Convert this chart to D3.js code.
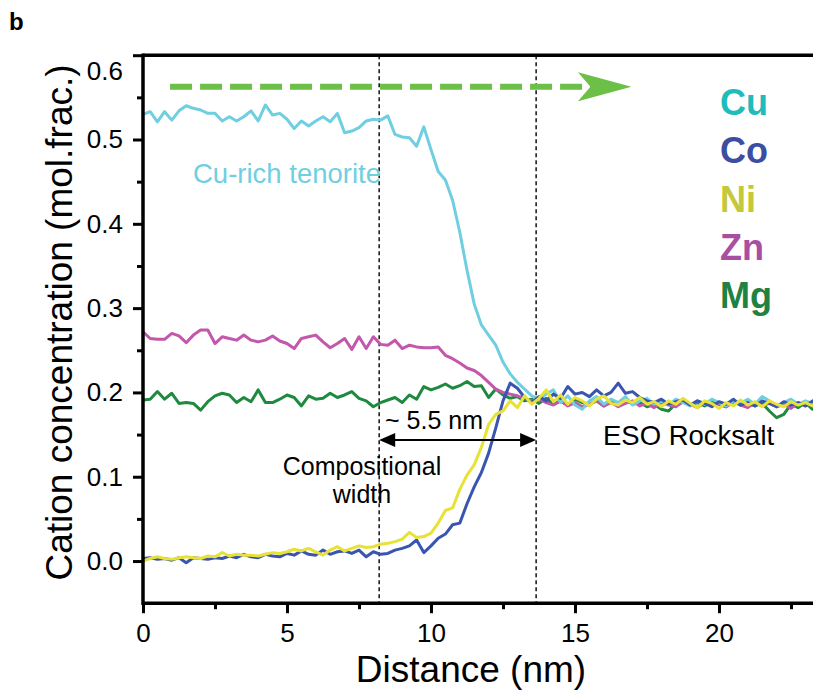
<!DOCTYPE html>
<html>
<head>
<meta charset="utf-8">
<script src="https://cdn.jsdelivr.net/npm/d3@7"></script>
<style>
  body { margin: 0; background: #fff; }
  svg { display: block; }
  text { font-family: "Liberation Sans", Arial, Helvetica, sans-serif; }
</style>
</head>
<body>
<svg id="chart" width="813" height="692"></svg>
<script>
// Line-scan distance (nm) across the interface
const distance = [
  0,0.25,0.5,0.75, 1,1.25,1.5,1.75, 2,2.25,2.5,2.75, 3,3.25,3.5,3.75,
  4,4.25,4.5,4.75, 5,5.25,5.5,5.75, 6,6.25,6.5,6.75, 7,7.25,7.5,7.75,
  8,8.25,8.5,8.75, 9,9.25,9.5,9.75, 10,10.25,10.5,10.75, 11,11.25,11.5,11.75,
  12,12.25,12.5,12.75, 13,13.25,13.5,13.75, 14,14.25,14.5,14.75, 15,15.25,15.5,15.75,
  16,16.25,16.5,16.75, 17,17.25,17.5,17.75, 18,18.25,18.5,18.75, 19,19.25,19.5,19.75,
  20,20.25,20.5,20.75, 21,21.25,21.5,21.75, 22,22.25,22.5,22.75, 23,23.25,23.5
];

// Cation concentrations (mol. frac.)
const cu = [
  0.530,0.533,0.521,0.533, 0.523,0.534,0.540,0.537, 0.535,0.531,0.531,0.522, 0.527,0.522,0.527,0.534,
  0.522,0.541,0.529,0.531, 0.524,0.513,0.522,0.516, 0.522,0.527,0.521,0.531, 0.508,0.510,0.514,0.522,
  0.524,0.523,0.528,0.506, 0.503,0.502,0.492,0.515, 0.488,0.462,0.452,0.428, 0.390,0.345,0.305,0.280,
  0.268,0.256,0.236,0.222, 0.212,0.204,0.196,0.192, 0.198,0.203,0.188,0.196, 0.185,0.180,0.190,0.195,
  0.186,0.192,0.188,0.195, 0.185,0.190,0.193,0.186, 0.190,0.185,0.192,0.188, 0.184,0.190,0.186,0.192,
  0.188,0.184,0.190,0.187, 0.192,0.186,0.195,0.190, 0.183,0.188,0.192,0.186, 0.190,0.187,0.189
];
const co = [
  0.003,0.004,0.002,0.003, 0.001,0.004,-0.002,0.004, 0.003,0.002,0.004,0.003, 0.006,0.004,0.008,0.005,
  0.004,0.008,0.006,0.005, 0.009,0.007,0.012,0.008, 0.007,0.013,0.008,0.011, 0.012,0.009,0.013,0.005,
  0.011,0.008,0.009,0.013, 0.015,0.018,0.025,0.010, 0.018,0.027,0.032,0.043, 0.045,0.068,0.088,0.105,
  0.128,0.158,0.190,0.211, 0.205,0.194,0.188,0.195, 0.190,0.198,0.193,0.207, 0.198,0.200,0.195,0.203,
  0.196,0.200,0.211,0.199, 0.201,0.194,0.190,0.188, 0.192,0.186,0.189,0.191, 0.185,0.190,0.187,0.183,
  0.189,0.186,0.192,0.185, 0.188,0.184,0.190,0.187, 0.183,0.189,0.185,0.188, 0.184,0.190,0.186
];
const ni = [
  0.000,0.003,0.005,0.003, 0.002,0.004,0.005,0.004, 0.003,0.006,0.005,0.010, 0.006,0.008,0.007,0.007,
  0.006,0.008,0.010,0.009, 0.011,0.014,0.012,0.015, 0.011,0.007,0.013,0.017, 0.012,0.015,0.018,0.016,
  0.017,0.020,0.021,0.023, 0.026,0.034,0.028,0.029, 0.033,0.045,0.060,0.063, 0.085,0.102,0.114,0.135,
  0.162,0.174,0.178,0.190, 0.182,0.196,0.186,0.193, 0.203,0.189,0.197,0.186, 0.194,0.190,0.184,0.192,
  0.196,0.187,0.185,0.191, 0.188,0.194,0.186,0.189, 0.183,0.190,0.186,0.193, 0.187,0.182,0.190,0.187,
  0.181,0.188,0.184,0.191, 0.185,0.189,0.183,0.190, 0.186,0.183,0.189,0.185, 0.188,0.184,0.187
];
const zn = [
  0.272,0.264,0.263,0.263, 0.270,0.267,0.259,0.268, 0.274,0.274,0.258,0.266, 0.264,0.262,0.268,0.262,
  0.260,0.262,0.267,0.261, 0.258,0.252,0.264,0.266, 0.268,0.260,0.253,0.258, 0.264,0.251,0.266,0.252,
  0.266,0.257,0.256,0.262, 0.252,0.256,0.254,0.253, 0.253,0.254,0.244,0.240, 0.235,0.229,0.226,0.220,
  0.212,0.204,0.200,0.198, 0.196,0.193,0.190,0.192, 0.188,0.185,0.190,0.184, 0.188,0.183,0.186,0.190,
  0.184,0.188,0.183,0.187, 0.190,0.184,0.187,0.182, 0.188,0.185,0.183,0.189, 0.186,0.182,0.188,0.184,
  0.187,0.183,0.189,0.185, 0.182,0.188,0.184,0.187, 0.183,0.186,0.181,0.188, 0.184,0.187,0.183
];
const mg = [
  0.191,0.192,0.201,0.192, 0.199,0.187,0.188,0.187, 0.179,0.189,0.196,0.199, 0.197,0.188,0.194,0.189,
  0.203,0.188,0.188,0.192, 0.197,0.194,0.184,0.196, 0.192,0.193,0.199,0.194, 0.197,0.201,0.193,0.190,
  0.183,0.188,0.191,0.194, 0.188,0.197,0.192,0.207, 0.203,0.206,0.210,0.205, 0.208,0.213,0.207,0.208,
  0.194,0.204,0.197,0.193, 0.195,0.190,0.192,0.187, 0.193,0.186,0.190,0.185, 0.192,0.188,0.186,0.190,
  0.184,0.189,0.187,0.192, 0.186,0.188,0.183,0.186, 0.180,0.178,0.187,0.190, 0.185,0.188,0.184,0.189,
  0.186,0.183,0.189,0.185, 0.188,0.184,0.187,0.178, 0.170,0.174,0.186,0.182, 0.188,0.180,0.183
];

const xTicks = [0, 5, 10, 15, 20];
const xMinorTicks = [2.5, 7.5, 12.5, 17.5, 22.5];
const yTicks = [0, 0.1, 0.2, 0.3, 0.4, 0.5, 0.6];
const yMinorTicks = [0.05, 0.15, 0.25, 0.35, 0.45, 0.55];

const elements = ["Cu", "Co", "Ni", "Zn", "Mg"];
const lineColors = { Cu: "#6fcfe0", Co: "#3a55b0", Ni: "#e8e236", Zn: "#c257ab", Mg: "#1d8a40" };
const legendColors = { Cu: "#1fbcbc", Co: "#3b4ea1", Ni: "#c4c83a", Zn: "#a94fa2", Mg: "#1f8142" };
const seriesByElement = { Cu: cu, Co: co, Ni: ni, Zn: zn, Mg: mg };
const drawOrder = ["Mg", "Zn", "Cu", "Co", "Ni"];

// Interface boundaries (nm) bracketing the compositional width
const boundaries = [8.2, 13.65];
const widthArrowLevel = 0.1435;
// Scan direction arrow: start, end (nm) and level (mol. frac.)
const scanArrow = { from: 0.94, to: 16.96, level: 0.5626 };

const svg = d3.select("#chart");
const W = 813, H = 692;

const x = d3.scaleLinear().domain([0, 25]).range([143, 863]);
const y = d3.scaleLinear().domain([-0.05, 0.6]).range([603.2, 55.2]);

const plotLeft = x(0), plotRight = W, plotTop = y(0.6), plotBottom = y(-0.05);

svg.append("defs").append("clipPath").attr("id", "plot-clip")
  .append("rect").attr("x", plotLeft).attr("y", plotTop - 2)
  .attr("width", plotRight - plotLeft).attr("height", plotBottom - plotTop + 4);

// Panel letter
svg.append("text").attr("x", 9).attr("y", 30)
  .attr("font-size", 24).attr("font-weight", "bold").text("b");

// Boundary guides
svg.append("g").selectAll("line").data(boundaries).join("line")
  .attr("x1", d => x(d)).attr("x2", d => x(d))
  .attr("y1", plotTop).attr("y2", plotBottom)
  .attr("stroke", "#000").attr("stroke-width", 1.4)
  .attr("stroke-dasharray", "4,3");

// Concentration profiles
const line = d3.line()
  .x((d, i) => x(distance[i]))
  .y(d => y(d));

svg.append("g").attr("clip-path", "url(#plot-clip)")
  .selectAll("path").data(drawOrder).join("path")
  .attr("d", k => line(seriesByElement[k]))
  .attr("fill", "none")
  .attr("stroke", k => lineColors[k])
  .attr("stroke-width", 3)
  .attr("stroke-linejoin", "round");

// Axes
const axisX = svg.append("g").attr("transform", `translate(0,${plotBottom})`)
  .call(d3.axisBottom(x).tickValues(xTicks).tickSize(10).tickPadding(10).tickFormat(d3.format("d")));
const axisXMinor = svg.append("g").attr("transform", `translate(0,${plotBottom})`)
  .call(d3.axisBottom(x).tickValues(xMinorTicks).tickSize(6).tickFormat(""));
const axisY = svg.append("g").attr("transform", `translate(${plotLeft},0)`)
  .call(d3.axisLeft(y).tickValues(yTicks).tickSize(10).tickPadding(10).tickFormat(d3.format(".1f")));
const axisYMinor = svg.append("g").attr("transform", `translate(${plotLeft},0)`)
  .call(d3.axisLeft(y).tickValues(yMinorTicks).tickSize(6).tickFormat(""));

[axisX, axisXMinor, axisY, axisYMinor].forEach(g => {
  g.select(".domain").remove();
  g.selectAll(".tick line").attr("stroke", "#000").attr("stroke-width", 3);
  g.selectAll(".tick text").attr("font-size", 26).attr("fill", "#000")
    .attr("font-family", "'Liberation Sans', Arial, sans-serif");
});
// keep the top label clear of the frame corner
axisY.selectAll(".tick").filter(d => d === 0.6).select("text").attr("dy", "0.95em");

// Frame: left, bottom and top spines
const frame = svg.append("g").attr("stroke", "#000").attr("stroke-width", 3.5).attr("fill", "none");
frame.append("line").attr("x1", plotLeft).attr("x2", plotLeft).attr("y1", plotTop - 1.75).attr("y2", plotBottom + 1.75);
frame.append("line").attr("x1", plotLeft).attr("x2", plotRight).attr("y1", plotBottom).attr("y2", plotBottom);
frame.append("line").attr("x1", plotLeft).attr("x2", plotRight).attr("y1", plotTop).attr("y2", plotTop);

// Axis titles
svg.append("text").attr("x", 471).attr("y", 682)
  .attr("text-anchor", "middle").attr("font-size", 37).text("Distance (nm)");
svg.append("text").attr("transform", `translate(72,${(60 + 585) / 2}) rotate(-90)`)
  .attr("text-anchor", "middle").attr("font-size", 37).text("Cation concentration (mol.frac.)");

// Element legend
svg.append("g").selectAll("text").data(elements).join("text")
  .attr("x", 720).attr("y", (d, i) => 115 + i * 48.3)
  .attr("font-size", 36).attr("font-weight", "bold")
  .attr("fill", d => legendColors[d]).text(d => d);

// Scan direction arrow
const ay = y(scanArrow.level), ax0 = x(scanArrow.from), ax1 = x(scanArrow.to);
svg.append("line").attr("x1", ax0).attr("x2", ax1 - 40).attr("y1", ay).attr("y2", ay)
  .attr("stroke", "#6cbf47").attr("stroke-width", 6).attr("stroke-dasharray", "22,8");
svg.append("path")
  .attr("d", `M${ax1},${ay} L${ax1 - 53.5},${ay - 14.5} L${ax1 - 41},${ay} L${ax1 - 53.5},${ay + 14.5} Z`)
  .attr("fill", "#6cbf47");

// Compositional width arrow
const wy = y(widthArrowLevel), wx0 = x(boundaries[0]), wx1 = x(boundaries[1]);
svg.append("line").attr("x1", wx0 + 12).attr("x2", wx1 - 12).attr("y1", wy).attr("y2", wy)
  .attr("stroke", "#000").attr("stroke-width", 2);
svg.append("path").attr("d", `M${wx0},${wy} L${wx0 + 16},${wy - 7} L${wx0 + 16},${wy + 7} Z`).attr("fill", "#000");
svg.append("path").attr("d", `M${wx1},${wy} L${wx1 - 16},${wy - 7} L${wx1 - 16},${wy + 7} Z`).attr("fill", "#000");

// Annotations
svg.append("text").attr("x", 385).attr("y", 428.5).attr("font-size", 25).text("~ 5.5 nm");
const comp = svg.append("text").attr("text-anchor", "middle").attr("font-size", 25);
comp.append("tspan").attr("x", 362).attr("y", 475).text("Compositional");
comp.append("tspan").attr("x", 362).attr("y", 503).text("width");
svg.append("text").attr("x", 603).attr("y", 445).attr("font-size", 27.5).text("ESO Rocksalt");
svg.append("text").attr("x", 193).attr("y", 183).attr("font-size", 27.5)
  .attr("fill", lineColors.Cu).text("Cu-rich tenorite");
</script>
</body>
</html>
